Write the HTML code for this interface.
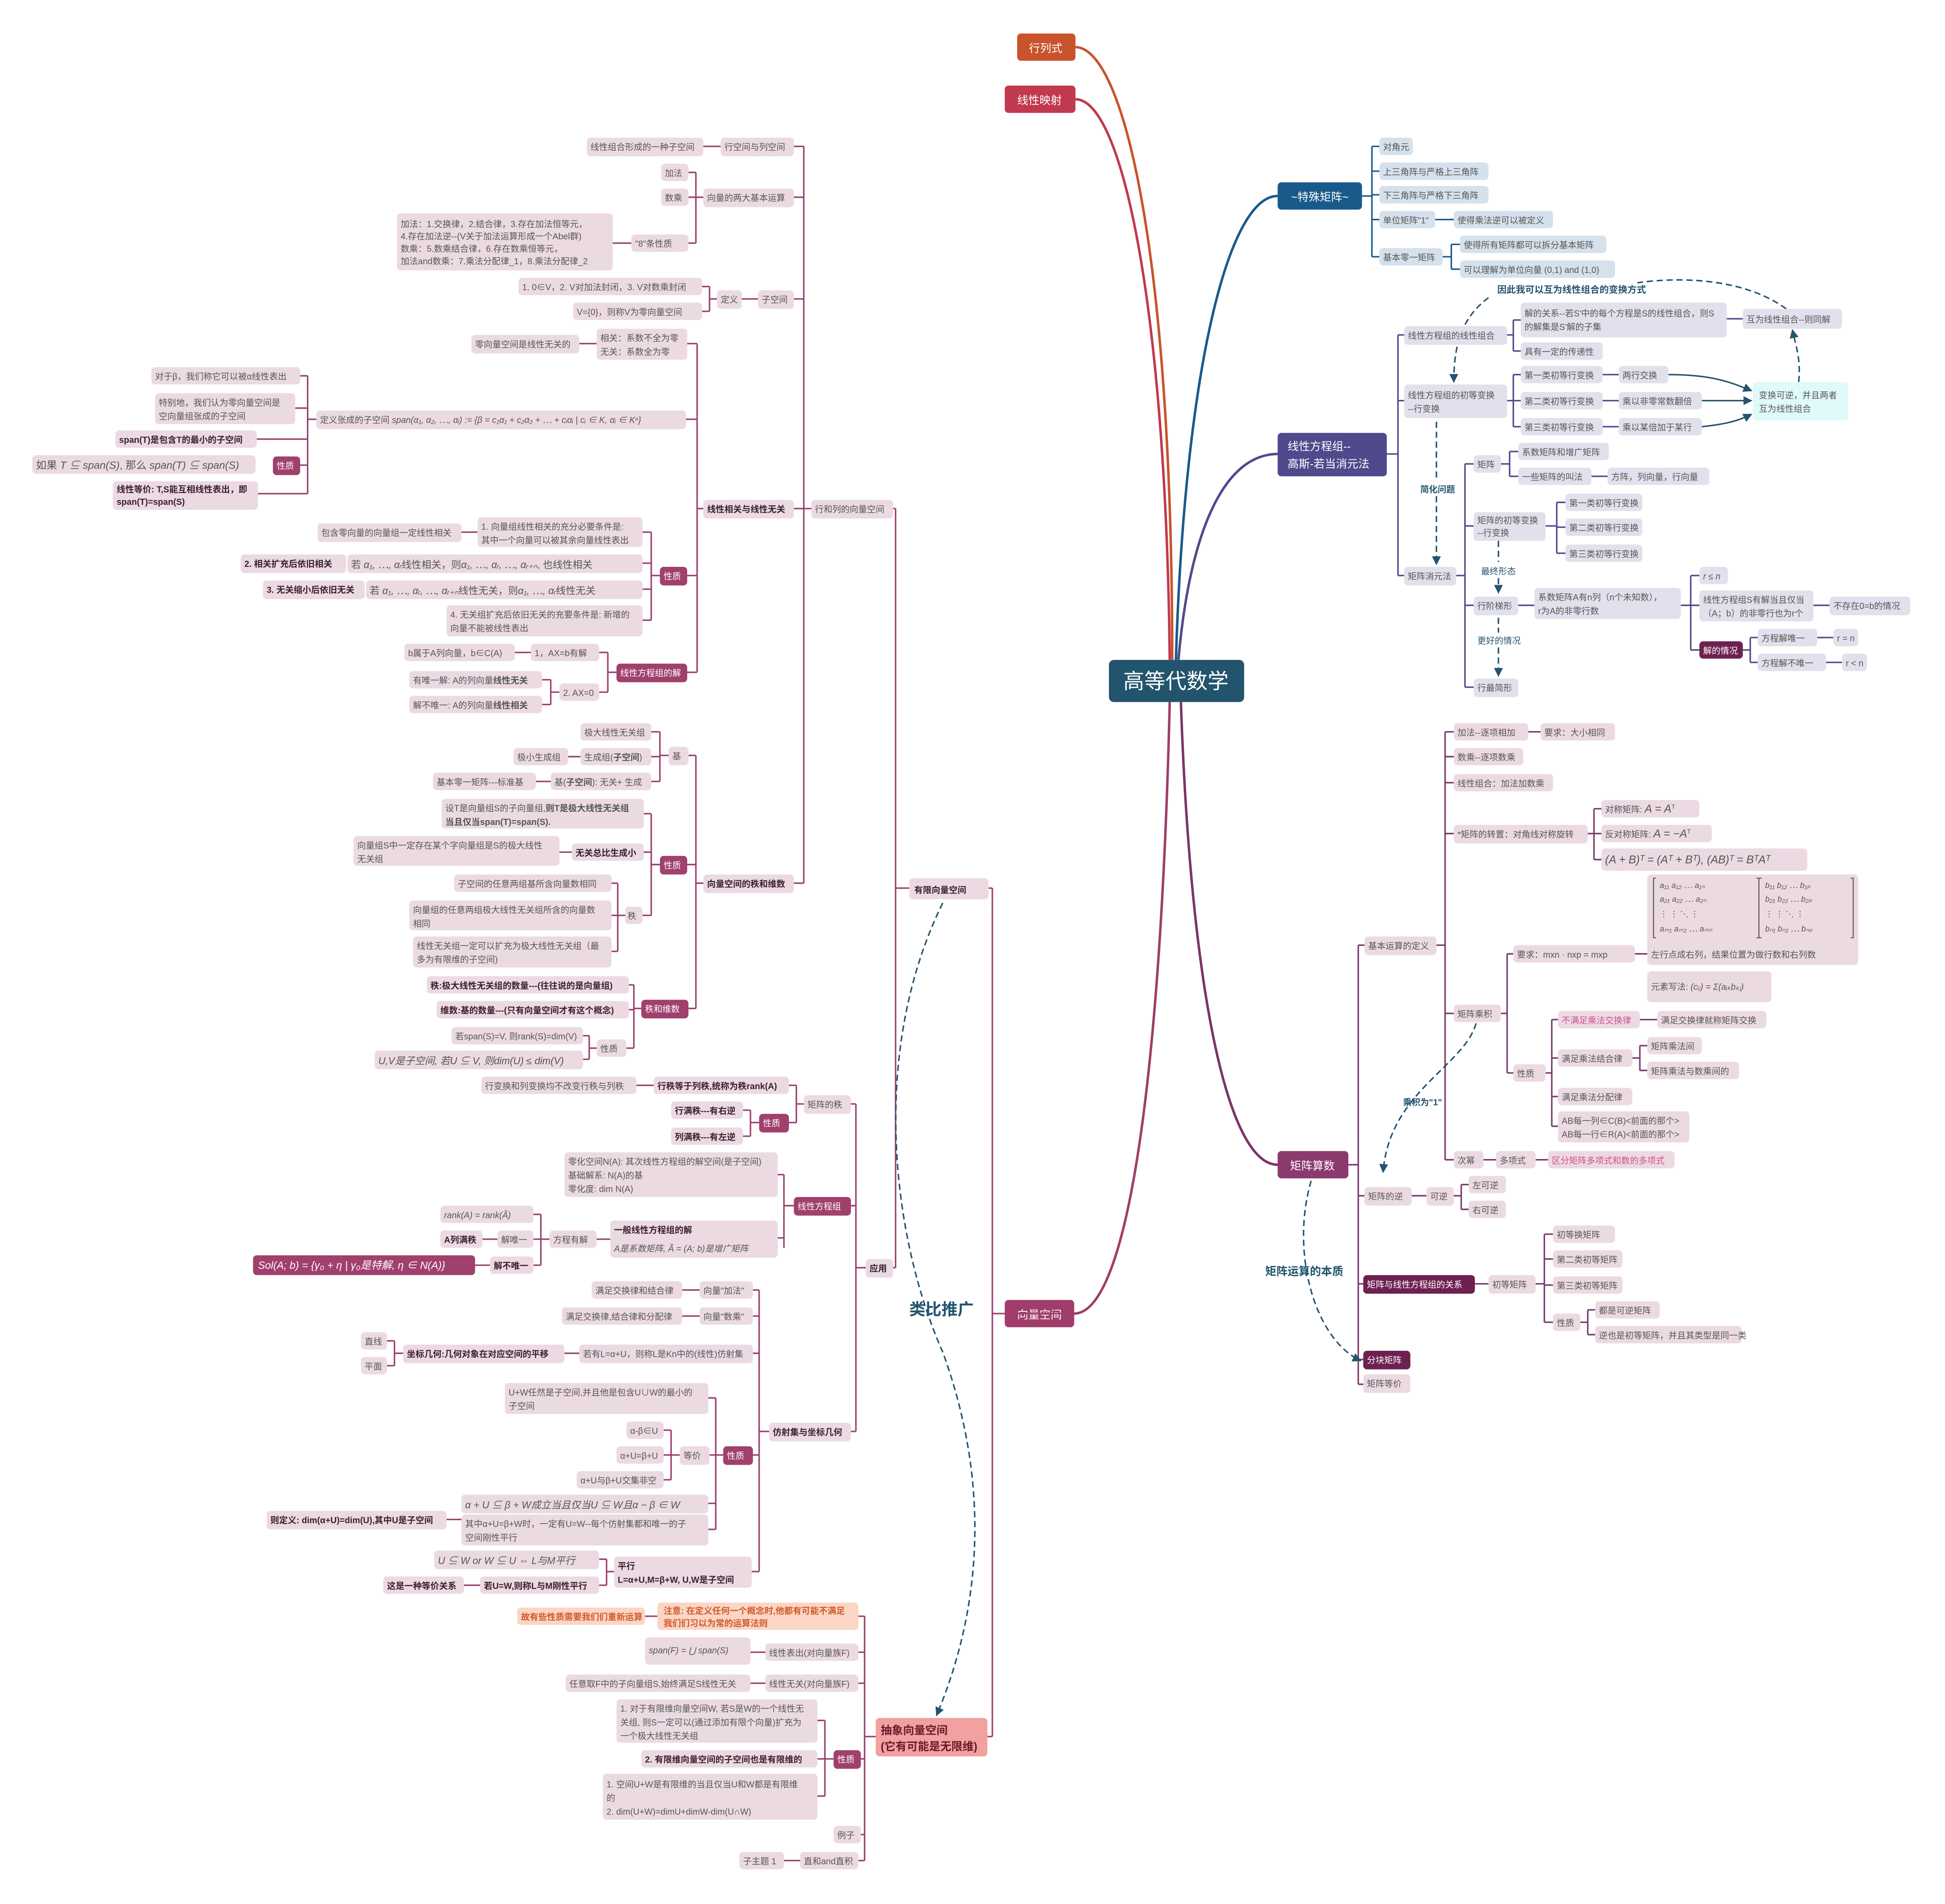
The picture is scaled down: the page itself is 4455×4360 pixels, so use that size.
<!DOCTYPE html>
<html><head><meta charset="utf-8">
<style>
html,body{margin:0;padding:0;background:#fff;}
svg{display:block;}
text{font-family:"Liberation Sans","Noto Sans CJK SC",sans-serif;font-size:7px;fill:#555;}
.p rect{fill:#ecdae3;}
.b rect{fill:#d5e1ec;}
.l rect{fill:#e1e0ec;}
.d rect{fill:#a0406c;}
.d text{fill:#fff;}
.dd rect{fill:#6d2150;}
.dd text{fill:#fff;}
.bo text{font-weight:bold;fill:#3a2030;}
.lp{fill:none;stroke:#9a4070;stroke-width:1.2;}
.lb{fill:none;stroke:#1a5a8a;stroke-width:1.2;}
.ll{fill:none;stroke:#4e4a8c;stroke-width:1.2;}
.lm{fill:none;stroke:#7a3a6e;stroke-width:1.2;}
.dash{fill:none;stroke:#23546e;stroke-width:1.2;stroke-dasharray:5 3;}
</style></head><body>
<svg width="4455" height="4360" viewBox="0 0 1568 1535" preserveAspectRatio="none" xmlns="http://www.w3.org/2000/svg">
<defs><marker id="ar" viewBox="0 0 10 10" refX="9" refY="5" markerWidth="6" markerHeight="6" orient="auto"><path d="M0,0L10,5L0,10z" fill="#23546e"/></marker></defs>
<rect width="1568" height="1535" fill="#fff"/>

<!-- root curves -->
<path d="M945,532 C945,200 905,38 867,38" fill="none" stroke="#c9532a" stroke-width="2"/>
<path d="M943,532 C940,250 905,80 867,80" fill="none" stroke="#c0394e" stroke-width="2"/>
<path d="M948,532 C955,300 990,158 1030,158" fill="none" stroke="#1a5a8a" stroke-width="2"/>
<path d="M950,532 C960,420 990,366 1030,366" fill="none" stroke="#4e4a8c" stroke-width="2"/>
<path d="M952,566 C960,800 990,939 1030,939" fill="none" stroke="#7a3468" stroke-width="2"/>
<path d="M943,566 C935,900 905,1059 866,1059" fill="none" stroke="#a03d6a" stroke-width="2"/>

<!-- main nodes -->
<rect x="894" y="532" width="109" height="34" rx="4" fill="#23546e"/>
<text x="948" y="555" text-anchor="middle" style="font-size:17px;fill:#fff">高等代数学</text>
<rect x="820" y="27" width="47" height="22" rx="3" fill="#c9532a"/><text x="843" y="42" text-anchor="middle" style="font-size:9px;fill:#fff">行列式</text>
<rect x="810" y="69" width="57" height="22" rx="3" fill="#c0394e"/><text x="838" y="84" text-anchor="middle" style="font-size:9px;fill:#fff">线性映射</text>
<rect x="1030" y="147" width="68" height="22" rx="3" fill="#1a5a8a"/><text x="1064" y="162" text-anchor="middle" style="font-size:9px;fill:#fff">~特殊矩阵~</text>
<rect x="1030" y="349" width="88" height="35" rx="3" fill="#4e4a8c"/><text x="1038" y="363" style="font-size:9px;fill:#fff">线性方程组--</text><text x="1038" y="377" style="font-size:9px;fill:#fff">高斯-若当消元法</text>
<rect x="1030" y="928" width="57" height="22" rx="3" fill="#8b3a6e"/><text x="1058" y="943" text-anchor="middle" style="font-size:9px;fill:#fff">矩阵算数</text>
<rect x="810" y="1048" width="56" height="22" rx="3" fill="#a03d6a"/><text x="838" y="1063" text-anchor="middle" style="font-size:9px;fill:#fff">向量空间</text>

<!-- ===== 特殊矩阵 ===== -->
<path class="lb" d="M1098,158 H1106 M1106,118 V207 M1106,118 H1112 M1106,138 H1112 M1106,157 H1112 M1106,177 H1112 M1106,207 H1112 M1157,177 H1172 M1163,207 H1170 M1170,197 V217 M1170,197 H1177 M1170,217 H1177"/>
<g class="b">
<rect x="1112" y="111" width="27" height="14" rx="3"/><text x="1115" y="121">对角元</text>
<rect x="1112" y="131" width="88" height="14" rx="3"/><text x="1115" y="141">上三角阵与严格上三角阵</text>
<rect x="1112" y="150" width="88" height="14" rx="3"/><text x="1115" y="160">下三角阵与严格下三角阵</text>
<rect x="1112" y="170" width="45" height="14" rx="3"/><text x="1115" y="180">单位矩阵"1"</text>
<rect x="1172" y="170" width="80" height="14" rx="3"/><text x="1175" y="180">使得乘法逆可以被定义</text>
<rect x="1112" y="200" width="51" height="14" rx="3"/><text x="1115" y="210">基本零一矩阵</text>
<rect x="1177" y="190" width="118" height="14" rx="3"/><text x="1180" y="200">使得所有矩阵都可以拆分基本矩阵</text>
<rect x="1177" y="210" width="125" height="14" rx="3"/><text x="1180" y="220">可以理解为单位向量 (0,1) and (1,0)</text>
</g>

<!-- ===== 线性方程组 ===== -->
<path class="ll" d="M1118,366 H1127 M1127,270 V464 M1127,270 H1132 M1127,323 H1132 M1127,464 H1132
M1215,270 H1220 M1220,258 V283 M1220,258 H1226 M1220,283 H1226 M1392,257 H1405
M1215,323 H1220 M1220,302 V344 M1220,302 H1226 M1220,323 H1226 M1220,344 H1226
M1292,302 H1305 M1292,323 H1305 M1292,344 H1305
M1174,464 H1181 M1181,374 V554 M1181,374 H1188 M1181,424 H1188 M1181,488 H1188 M1181,554 H1188
M1210,374 H1217 M1217,364 V384 M1217,364 H1224 M1217,384 H1224 M1283,384 H1296
M1246,424 H1255 M1255,405 V446 M1255,405 H1262 M1255,425 H1262 M1255,446 H1262
M1224,488 H1237 M1355,488 H1363 M1363,464 V524 M1363,464 H1370 M1363,488 H1370 M1363,524 H1370 M1462,488 H1475
M1405,524 H1411 M1411,514 V534 M1411,514 H1417 M1411,534 H1417 M1465,514 H1478 M1472,534 H1485"/>
<path d="M1345,302 C1380,302 1395,308 1412,315" fill="none" stroke="#23546e" stroke-width="1.2" marker-end="url(#ar)"/>
<path d="M1372,323 C1390,323 1400,323 1412,323" fill="none" stroke="#23546e" stroke-width="1.2" marker-end="url(#ar)"/>
<path d="M1372,344 C1390,342 1400,340 1412,334" fill="none" stroke="#23546e" stroke-width="1.2" marker-end="url(#ar)"/>
<path class="dash" d="M1450,308 C1452,290 1448,280 1445,266" marker-end="url(#ar)"/>
<path class="dash" d="M1440,249 C1400,220 1340,225 1320,228"/>
<path class="dash" d="M1200,240 C1180,255 1172,275 1172,308" marker-end="url(#ar)"/>
<path class="dash" d="M1158,340 V385 M1158,400 V455" marker-end="url(#ar)"/>
<path class="dash" d="M1208,436 V453 M1208,466 V478" marker-end="url(#ar)"/>
<path class="dash" d="M1208,498 V510 M1208,522 V545" marker-end="url(#ar)"/>
<text x="1207" y="236" style="font-weight:bold;fill:#23546e;font-size:7.5px">因此我可以互为线性组合的变换方式</text>
<text x="1145" y="397" style="font-weight:bold;fill:#23546e">简化问题</text>
<text x="1194" y="463" style="fill:#23546e">最终形态</text>
<text x="1191" y="519" style="fill:#23546e">更好的情况</text>
<g class="l">
<rect x="1132" y="263" width="83" height="15" rx="3"/><text x="1135" y="273">线性方程组的线性组合</text>
<rect x="1226" y="244" width="166" height="28" rx="3"/><text x="1229" y="255">解的关系--若S'中的每个方程是S的线性组合，则S</text><text x="1229" y="266">的解集是S'解的子集</text>
<rect x="1405" y="249" width="80" height="16" rx="3"/><text x="1408" y="260">互为线性组合--则同解</text>
<rect x="1226" y="276" width="66" height="14" rx="3"/><text x="1229" y="286">具有一定的传递性</text>
<rect x="1132" y="310" width="83" height="27" rx="3"/><text x="1135" y="321">线性方程组的初等变换</text><text x="1135" y="332">--行变换</text>
<rect x="1226" y="295" width="66" height="14" rx="3"/><text x="1229" y="305">第一类初等行变换</text>
<rect x="1226" y="316" width="66" height="14" rx="3"/><text x="1229" y="326">第二类初等行变换</text>
<rect x="1226" y="337" width="66" height="14" rx="3"/><text x="1229" y="347">第三类初等行变换</text>
<rect x="1305" y="295" width="40" height="14" rx="3"/><text x="1308" y="305">两行交换</text>
<rect x="1305" y="316" width="67" height="14" rx="3"/><text x="1308" y="326">乘以非零常数翻倍</text>
<rect x="1305" y="337" width="67" height="14" rx="3"/><text x="1308" y="347">乘以某倍加于某行</text>
<rect x="1188" y="367" width="22" height="14" rx="3"/><text x="1191" y="377">矩阵</text>
<rect x="1224" y="357" width="73" height="14" rx="3"/><text x="1227" y="367">系数矩阵和增广矩阵</text>
<rect x="1224" y="377" width="59" height="14" rx="3"/><text x="1227" y="387">一些矩阵的叫法</text>
<rect x="1296" y="377" width="82" height="14" rx="3"/><text x="1299" y="387">方阵，列向量，行向量</text>
<rect x="1188" y="413" width="58" height="23" rx="3"/><text x="1191" y="422">矩阵的初等变换</text><text x="1191" y="432">--行变换</text>
<rect x="1262" y="398" width="62" height="14" rx="3"/><text x="1265" y="408">第一类初等行变换</text>
<rect x="1262" y="418" width="62" height="14" rx="3"/><text x="1265" y="428">第二类初等行变换</text>
<rect x="1262" y="439" width="62" height="14" rx="3"/><text x="1265" y="449">第三类初等行变换</text>
<rect x="1132" y="457" width="42" height="15" rx="3"/><text x="1135" y="467">矩阵消元法</text>
<rect x="1188" y="481" width="36" height="15" rx="3"/><text x="1191" y="491">行阶梯形</text>
<rect x="1237" y="474" width="118" height="25" rx="3"/><text x="1240" y="484">系数矩阵A有n列（n个未知数），</text><text x="1240" y="495">r为A的非零行数</text>
<rect x="1370" y="457" width="23" height="14" rx="3"/><text x="1373" y="467" style="font-style:italic">r ≤ n</text>
<rect x="1370" y="476" width="92" height="25" rx="3"/><text x="1373" y="486">线性方程组S有解当且仅当</text><text x="1373" y="497">（A；b）的非零行也为r个</text>
<rect x="1475" y="481" width="65" height="15" rx="3"/><text x="1478" y="491">不存在0=b的情况</text>
<rect x="1417" y="507" width="48" height="14" rx="3"/><text x="1420" y="517">方程解唯一</text>
<rect x="1478" y="507" width="20" height="14" rx="3"/><text x="1481" y="517">r = n</text>
<rect x="1417" y="527" width="55" height="14" rx="3"/><text x="1420" y="537">方程解不唯一</text>
<rect x="1485" y="527" width="20" height="14" rx="3"/><text x="1488" y="537">r &lt; n</text>
<rect x="1188" y="547" width="36" height="15" rx="3"/><text x="1191" y="557">行最简形</text>
</g>
<rect x="1413" y="308" width="77" height="31" rx="3" fill="#e0fafa"/><text x="1418" y="321">变换可逆，并且两者</text><text x="1418" y="332">互为线性组合</text>
<g class="dd"><rect x="1370" y="517" width="35" height="14" rx="3"/><text x="1373" y="527">解的情况</text></g>

<!-- ===== 矩阵算数 ===== -->
<path class="lm" d="M1087,939 H1095 M1095,762 V1116 M1095,762 H1100 M1095,964 H1100 M1095,1035 H1099 M1095,1096 H1099 M1095,1116 H1099
M1158,762 H1165 M1165,590 V935 M1165,590 H1172 M1165,610 H1172 M1165,631 H1172 M1165,672 H1172 M1165,817 H1172 M1165,935 H1172
M1232,590 H1242 M1280,672 H1285 M1285,652 V693 M1285,652 H1291 M1285,672 H1291 M1285,693 H1291
M1210,817 H1215 M1215,769 V865 M1215,769 H1220 M1215,865 H1220 M1318,769 H1328
M1246,865 H1251 M1251,822 V908 M1251,822 H1256 M1251,853 H1256 M1251,884 H1256 M1251,908 H1256
M1322,822 H1336 M1316,853 H1322 M1322,843 V863 M1322,843 H1328 M1322,863 H1328
M1196,935 H1206 M1238,935 H1248 M1138,964 H1150 M1172,964 H1178 M1178,955 V975 M1178,955 H1184 M1178,975 H1184
M1189,1035 H1200 M1238,1035 H1245 M1245,995 V1066 M1245,995 H1252 M1245,1015 H1252 M1245,1036 H1252 M1245,1066 H1252
M1274,1066 H1280 M1280,1056 V1076 M1280,1056 H1286 M1280,1076 H1286"/>
<path class="dash" d="M1190,825 C1180,860 1120,880 1115,945" marker-end="url(#ar)"/>
<path class="dash" d="M1057,952 C1040,1010 1060,1080 1097,1097" marker-end="url(#ar)"/>
<text x="1131" y="891" style="font-weight:bold;fill:#23546e">乘积为"1"</text>
<text x="1020" y="1028" style="font-weight:bold;fill:#23546e;font-size:9px">矩阵运算的本质</text>
<g class="p">
<rect x="1100" y="755" width="58" height="15" rx="3"/><text x="1103" y="765">基本运算的定义</text>
<rect x="1172" y="583" width="60" height="14" rx="3"/><text x="1175" y="593">加法--逐项相加</text>
<rect x="1242" y="583" width="60" height="14" rx="3"/><text x="1245" y="593">要求：大小相同</text>
<rect x="1172" y="603" width="56" height="14" rx="3"/><text x="1175" y="613">数乘--逐项数乘</text>
<rect x="1172" y="624" width="80" height="14" rx="3"/><text x="1175" y="634">线性组合：加法加数乘</text>
<rect x="1172" y="665" width="108" height="15" rx="3"/><text x="1175" y="675">*矩阵的转置：对角线对称旋转</text>
<rect x="1291" y="645" width="79" height="14" rx="3"/><text x="1294" y="655">对称矩阵:  <tspan style="font-style:italic;font-size:9px">A = A</tspan><tspan dy="-3" style="font-size:5px">T</tspan></text>
<rect x="1291" y="665" width="89" height="14" rx="3"/><text x="1294" y="675">反对称矩阵:  <tspan style="font-style:italic;font-size:9px">A = −A</tspan><tspan dy="-3" style="font-size:5px">T</tspan></text>
<rect x="1291" y="684" width="166" height="18" rx="3"/><text x="1294" y="696" style="font-style:italic;font-size:9px">(A + B)ᵀ = (Aᵀ + Bᵀ), (AB)ᵀ = BᵀAᵀ</text>
<rect x="1172" y="810" width="38" height="14" rx="3"/><text x="1175" y="820">矩阵乘积</text>
<rect x="1220" y="762" width="98" height="14" rx="3"/><text x="1223" y="772">要求：mxn · nxp = mxp</text>
<rect x="1328" y="705" width="170" height="73" rx="3"/>
<text x="1338" y="716" style="font-size:6.5px;font-style:italic">a₁₁  a₁₂  ⋯  a₁ₙ</text><text x="1338" y="727" style="font-size:6.5px;font-style:italic">a₂₁  a₂₂  ⋯  a₂ₙ</text><text x="1338" y="739" style="font-size:6.5px">⋮     ⋮    ⋱   ⋮</text><text x="1338" y="751" style="font-size:6.5px;font-style:italic">aₘ₁  aₘ₂  ⋯  aₘₙ</text>
<text x="1423" y="716" style="font-size:6.5px;font-style:italic">b₁₁  b₁₂  ⋯  b₁ₚ</text><text x="1423" y="727" style="font-size:6.5px;font-style:italic">b₂₁  b₂₂  ⋯  b₂ₚ</text><text x="1423" y="739" style="font-size:6.5px">⋮     ⋮    ⋱   ⋮</text><text x="1423" y="751" style="font-size:6.5px;font-style:italic">bₙ₁  bₙ₂  ⋯  bₙₚ</text>
<path d="M1335,708 h-2 v48 h2 M1416,708 h2 v48 h-2 M1420,708 h-2 v48 h2 M1492,708 h2 v48 h-2" stroke="#555" fill="none" stroke-width="0.8"/>
<text x="1331" y="772">左行点成右列，结果位置为做行数和右列数</text>
<rect x="1328" y="783" width="100" height="25" rx="3"/><text x="1331" y="798">元素写法:  <tspan style="font-style:italic">(cᵢⱼ) = Σ(aᵢₖbₖⱼ)</tspan></text>
<rect x="1220" y="858" width="26" height="14" rx="3"/><text x="1223" y="868">性质</text>
<rect x="1256" y="815" width="66" height="14" rx="3"/><text x="1259" y="825" style="fill:#d0508a">不满足乘法交换律</text>
<rect x="1336" y="815" width="88" height="14" rx="3"/><text x="1339" y="825">满足交换律就称矩阵交换</text>
<rect x="1256" y="846" width="60" height="14" rx="3"/><text x="1259" y="856">满足乘法结合律</text>
<rect x="1328" y="836" width="44" height="14" rx="3"/><text x="1331" y="846">矩阵乘法间</text>
<rect x="1328" y="856" width="74" height="14" rx="3"/><text x="1331" y="866">矩阵乘法与数乘间的</text>
<rect x="1256" y="877" width="60" height="14" rx="3"/><text x="1259" y="887">满足乘法分配律</text>
<rect x="1256" y="896" width="106" height="25" rx="3"/><text x="1259" y="906">AB每一列∈C(B)&lt;前面的那个&gt;</text><text x="1259" y="917">AB每一行∈R(A)&lt;前面的那个&gt;</text>
<rect x="1172" y="928" width="24" height="14" rx="3"/><text x="1175" y="938">次幂</text>
<rect x="1206" y="928" width="32" height="14" rx="3"/><text x="1209" y="938">多项式</text>
<rect x="1248" y="928" width="102" height="14" rx="3"/><text x="1251" y="938" style="fill:#d0508a">区分矩阵多项式和数的多项式</text>
<rect x="1100" y="957" width="38" height="15" rx="3"/><text x="1103" y="967">矩阵的逆</text>
<rect x="1150" y="957" width="22" height="15" rx="3"/><text x="1153" y="967">可逆</text>
<rect x="1184" y="948" width="30" height="14" rx="3"/><text x="1187" y="958">左可逆</text>
<rect x="1184" y="968" width="30" height="14" rx="3"/><text x="1187" y="978">右可逆</text>
<rect x="1200" y="1028" width="38" height="15" rx="3"/><text x="1203" y="1038">初等矩阵</text>
<rect x="1252" y="988" width="50" height="14" rx="3"/><text x="1255" y="998">初等换矩阵</text>
<rect x="1252" y="1008" width="56" height="14" rx="3"/><text x="1255" y="1018">第二类初等矩阵</text>
<rect x="1252" y="1029" width="56" height="14" rx="3"/><text x="1255" y="1039">第三类初等矩阵</text>
<rect x="1252" y="1059" width="22" height="14" rx="3"/><text x="1255" y="1069">性质</text>
<rect x="1286" y="1049" width="52" height="14" rx="3"/><text x="1289" y="1059">都是可逆矩阵</text>
<rect x="1286" y="1069" width="118" height="14" rx="3"/><text x="1289" y="1079">逆也是初等矩阵，并且其类型是同一类</text>
<rect x="1099" y="1108" width="38" height="15" rx="3"/><text x="1102" y="1118">矩阵等价</text>
</g>
<g class="dd">
<rect x="1099" y="1028" width="90" height="15" rx="3"/><text x="1102" y="1038">矩阵与线性方程组的关系</text>
<rect x="1099" y="1089" width="38" height="15" rx="3"/><text x="1102" y="1099">分块矩阵</text>
</g>

<!-- ===== 向量空间 (left) ===== -->
<path class="lp" d="M866,1059 H800 M800,716 V1400 M800,716 H797 M800,1400 H796
M733,716 H722 M722,410 V1022 M722,410 H720 M722,1022 H720
M654,410 H648 M648,118 V712 M648,118 H640 M648,159 H640 M648,241 H640 M648,410 H640 M648,712 H640
M581,118 H567 M567,159 H561 M561,139 V196 M561,139 H555 M561,159 H555 M561,196 H555 M509,196 H494
M611,241 H598 M578,241 H572 M572,231 V251 M572,231 H566 M572,251 H566
M567,410 H562 M562,277 V542 M562,277 H554 M562,338 H553 M562,464 H554 M562,542 H554
M481,277 H467 M255,338 H248 M248,303 V398 M248,303 H242 M248,329 H238 M248,354 H207 M248,375 H242 M248,398 H208 M242,375 H242
M532,464 H525 M525,429 V500 M525,429 H518 M525,454 H518 M525,475 H518 M525,500 H518 M385,429 H372
M497,542 H490 M490,526 V558 M490,526 H483 M490,558 H483 M428,526 H415 M451,558 H444 M444,548 V568 M444,548 H437 M444,568 H437
M567,712 H561 M561,609 V813 M561,609 H555 M561,697 H554 M561,813 H555
M539,609 H532 M532,590 V630 M532,590 H525 M532,610 H525 M532,630 H525 M468,610 H458 M444,630 H432
M532,697 H525 M525,656 V738 M525,656 H519 M525,687 H519 M525,738 H518 M461,687 H451 M504,738 H498 M498,712 V767 M498,712 H493 M498,738 H493 M498,767 H493
M517,813 H511 M511,794 V845 M511,794 H507 M511,814 H507 M511,845 H505 M481,845 H475 M475,835 V854 M475,835 H470 M475,854 H470
M698,1022 H690 M690,890 V1154 M690,890 H686 M690,972 H686 M690,1154 H686
M648,890 H642 M642,875 V905 M642,875 H636 M642,905 H636 M527,875 H513 M612,905 H605 M605,895 V916 M605,895 H599 M605,916 H599
M640,972 H632 M632,947 V1006 M632,947 H627 M632,998 H627 M492,999 H481 M443,999 H436 M436,979 V1020 M436,979 H430 M436,999 H430 M436,1020 H430 M395,1020 H383 M355,999 H389 M401,999 H389
M620,1154 H612 M612,1040 V1267 M612,1040 H607 M612,1061 H607 M612,1091 H607 M612,1173 H607 M612,1267 H606
M564,1040 H550 M564,1061 H550 M467,1091 H455 M325,1091 H318 M318,1081 V1101 M318,1081 H312 M318,1101 H312
M583,1173 H577 M577,1127 V1233 M577,1127 H571 M577,1173 H572 M577,1212 H571 M577,1233 H571 M548,1173 H541 M541,1153 V1193 M541,1153 H535 M541,1173 H535 M541,1193 H535 M372,1225 H360
M495,1267 H489 M489,1257 V1278 M489,1257 H483 M489,1278 H483 M387,1278 H374
M706,1400 H697 M697,1303 V1500 M697,1303 H692 M697,1332 H692 M697,1357 H692 M697,1418 H694 M697,1479 H694 M697,1500 H692
M530,1303 H520 M617,1332 H605 M617,1357 H605 M645,1500 H632
M672,1418 H665 M665,1387 V1448 M665,1387 H659 M665,1418 H659 M665,1448 H659"/>
<path class="dash" d="M760,728 C700,850 720,1000 760,1090 C800,1200 790,1300 755,1383" marker-end="url(#ar)" style="stroke:#23546e"/>
<text x="733" y="1060" style="font-weight:bold;fill:#23546e;font-size:13px">类比推广</text>

<g class="p bo">
<rect x="733" y="708" width="64" height="17" rx="3"/><text x="737" y="720">有限向量空间</text>
<rect x="567" y="403" width="73" height="15" rx="3"/><text x="570" y="413">线性相关与线性无关</text>
<rect x="567" y="705" width="73" height="15" rx="3"/><text x="570" y="715">向量空间的秩和维数</text>
<rect x="698" y="1015" width="22" height="15" rx="3"/><text x="701" y="1025">应用</text>
<rect x="93" y="347" width="114" height="14" rx="3"/><text x="96" y="357">span(T)是包含T的最小的子空间</text>
<rect x="91" y="388" width="117" height="23" rx="3"/><text x="94" y="397">线性等价: T,S能互相线性表出，即</text><text x="94" y="407">span(T)=span(S)</text>
<rect x="194" y="447" width="85" height="15" rx="3"/><text x="197" y="457">2. 相关扩充后依旧相关</text>
<rect x="212" y="468" width="82" height="15" rx="3"/><text x="215" y="478">3. 无关缩小后依旧无关</text>
<rect x="461" y="680" width="58" height="14" rx="3"/><text x="464" y="690">无关总比生成小</text>
<rect x="344" y="787" width="163" height="14" rx="3"/><text x="347" y="797">秩:极大线性无关组的数量---(往往说的是向量组)</text>
<rect x="352" y="807" width="155" height="14" rx="3"/><text x="355" y="817">维数:基的数量---(只有向量空间才有这个概念)</text>
<rect x="527" y="868" width="109" height="14" rx="3"/><text x="530" y="878">行秩等于列秩,统称为秩rank(A)</text>
<rect x="541" y="888" width="58" height="14" rx="3"/><text x="544" y="898">行满秩---有右逆</text>
<rect x="541" y="909" width="58" height="14" rx="3"/><text x="544" y="919">列满秩---有左逆</text>
<rect x="355" y="992" width="34" height="14" rx="3"/><text x="358" y="1002">A列满秩</text>
<rect x="395" y="1013" width="35" height="14" rx="3"/><text x="398" y="1023">解不唯一</text>
<rect x="620" y="1147" width="66" height="15" rx="3"/><text x="623" y="1157">仿射集与坐标几何</text>
<rect x="325" y="1084" width="130" height="15" rx="3"/><text x="328" y="1094">坐标几何:几何对象在对应空间的平移</text>
<rect x="215" y="1218" width="145" height="15" rx="3"/><text x="218" y="1228">则定义: dim(α+U)=dim(U),其中U是子空间</text>
<rect x="495" y="1255" width="111" height="25" rx="3"/><text x="498" y="1265">平行</text><text x="498" y="1276">L=α+U,M=β+W,  U,W是子空间</text>
<rect x="387" y="1271" width="96" height="14" rx="3"/><text x="390" y="1281">若U=W,则称L与M刚性平行</text>
<rect x="309" y="1271" width="65" height="14" rx="3"/><text x="312" y="1281">这是一种等价关系</text>
<rect x="517" y="1411" width="142" height="14" rx="3"/><text x="520" y="1421">2. 有限维向量空间的子空间也是有限维的</text>
<rect x="492" y="984" width="135" height="30" rx="3"/><text x="495" y="994">一般线性方程组的解</text>
</g>
<text x="495" y="1009" style="font-style:italic">A是系数矩阵, Ã = (A; b)是增广矩阵</text>

<g class="p">
<rect x="654" y="403" width="66" height="15" rx="3"/><text x="657" y="413">行和列的向量空间</text>
<rect x="581" y="111" width="59" height="15" rx="3"/><text x="584" y="121">行空间与列空间</text>
<rect x="473" y="111" width="94" height="15" rx="3"/><text x="476" y="121">线性组合形成的一种子空间</text>
<rect x="567" y="152" width="73" height="15" rx="3"/><text x="570" y="162">向量的两大基本运算</text>
<rect x="533" y="132" width="22" height="14" rx="3"/><text x="536" y="142">加法</text>
<rect x="533" y="152" width="22" height="14" rx="3"/><text x="536" y="162">数乘</text>
<rect x="509" y="189" width="46" height="14" rx="3"/><text x="512" y="199">"8"条性质</text>
<rect x="320" y="172" width="174" height="46" rx="3"/>
<text x="323" y="183">加法：1.交换律，2.结合律，3.存在加法恒等元，</text><text x="323" y="193">4.存在加法逆--(V关于加法运算形成一个Abel群)</text><text x="323" y="203">数乘：5.数乘结合律，6.存在数乘恒等元，</text><text x="323" y="213">加法and数乘：7.乘法分配律_1，8.乘法分配律_2</text>
<rect x="611" y="234" width="29" height="15" rx="3"/><text x="614" y="244">子空间</text>
<rect x="578" y="234" width="20" height="15" rx="3"/><text x="581" y="244">定义</text>
<rect x="418" y="224" width="148" height="14" rx="3"/><text x="421" y="234">1. 0∈V，2. V对加法封闭，3. V对数乘封闭</text>
<rect x="462" y="244" width="104" height="14" rx="3"/><text x="465" y="254">V={0}，则称V为零向量空间</text>
<rect x="481" y="265" width="73" height="25" rx="3"/><text x="484" y="275">相关：系数不全为零</text><text x="484" y="286">无关：系数全为零</text>
<rect x="380" y="270" width="87" height="15" rx="3"/><text x="383" y="280">零向量空间是线性无关的</text>
<rect x="255" y="331" width="298" height="15" rx="3"/><text x="258" y="341">定义张成的子空间   <tspan style="font-style:italic">span(α₁, α₂, ⋯, αᵢ) := {β = c₁α₁ + c₂α₂ + ⋯ + cᵢαᵢ | cᵢ ∈ K, αᵢ ∈ Kⁿ}</tspan></text>
<rect x="122" y="296" width="120" height="14" rx="3"/><text x="125" y="306">对于β，我们称它可以被α线性表出</text>
<rect x="125" y="317" width="113" height="25" rx="3"/><text x="128" y="327">特别地，我们认为零向量空间是</text><text x="128" y="338">空向量组张成的子空间</text>
<rect x="26" y="367" width="180" height="15" rx="3"/><text x="29" y="378" style="font-size:8.5px">如果 <tspan style="font-style:italic">T ⊆ span(S)</tspan>, 那么 <tspan style="font-style:italic">span(T) ⊆ span(S)</tspan></text>
<rect x="385" y="417" width="133" height="24" rx="3"/><text x="388" y="427">1. 向量组线性相关的充分必要条件是:</text><text x="388" y="438">其中一个向量可以被其余向量线性表出</text>
<rect x="256" y="422" width="116" height="15" rx="3"/><text x="259" y="432">包含零向量的向量组一定线性相关</text>
<rect x="280" y="447" width="238" height="15" rx="3"/><text x="283" y="458" style="font-size:8px">若 <tspan style="font-style:italic">α₁, ⋯, αᵣ</tspan>线性相关，则<tspan style="font-style:italic">α₁, ⋯, αᵣ, ⋯, αᵣ₊ₙ</tspan>, 也线性相关</text>
<rect x="295" y="468" width="223" height="15" rx="3"/><text x="298" y="479" style="font-size:8px">若 <tspan style="font-style:italic">α₁, ⋯, αᵣ, ⋯, αᵣ₊ₙ</tspan>线性无关，则<tspan style="font-style:italic">α₁, ⋯, αᵣ</tspan>线性无关</text>
<rect x="360" y="488" width="158" height="25" rx="3"/><text x="363" y="498">4. 无关组扩充后依旧无关的充要条件是: 新增的</text><text x="363" y="509">向量不能被线性表出</text>
<rect x="428" y="519" width="55" height="14" rx="3"/><text x="431" y="529">1，AX=b有解</text>
<rect x="326" y="519" width="89" height="14" rx="3"/><text x="329" y="529">b属于A列向量，b∈C(A)</text>
<rect x="451" y="551" width="32" height="14" rx="3"/><text x="454" y="561">2. AX=0</text>
<rect x="330" y="541" width="107" height="14" rx="3"/><text x="333" y="551">有唯一解: A的列向量<tspan style="font-weight:bold">线性无关</tspan></text>
<rect x="330" y="561" width="107" height="14" rx="3"/><text x="333" y="571">解不唯一: A的列向量<tspan style="font-weight:bold">线性相关</tspan></text>
<rect x="539" y="602" width="16" height="15" rx="3"/><text x="542" y="612">基</text>
<rect x="468" y="583" width="57" height="14" rx="3"/><text x="471" y="593">极大线性无关组</text>
<rect x="468" y="603" width="57" height="14" rx="3"/><text x="471" y="613">生成组(<tspan style="font-weight:bold">子空间</tspan>)</text>
<rect x="414" y="603" width="44" height="14" rx="3"/><text x="417" y="613">极小生成组</text>
<rect x="444" y="623" width="81" height="14" rx="3"/><text x="447" y="633">基(<tspan style="font-weight:bold">子空间</tspan>): 无关+ 生成</text>
<rect x="349" y="623" width="83" height="14" rx="3"/><text x="352" y="633">基本零一矩阵---标准基</text>
<rect x="356" y="644" width="163" height="24" rx="3"/><text x="359" y="654">设T是向量组S的子向量组,<tspan style="font-weight:bold">则T是极大线性无关组</tspan></text><text x="359" y="665" style="font-weight:bold">当且仅当span(T)=span(S).</text>
<rect x="285" y="674" width="166" height="24" rx="3"/><text x="288" y="684">向量组S中一定存在某个字向量组是S的极大线性</text><text x="288" y="695">无关组</text>
<rect x="504" y="731" width="14" height="14" rx="3"/><text x="506" y="741">秩</text>
<rect x="366" y="705" width="127" height="14" rx="3"/><text x="369" y="715">子空间的任意两组基所含向量数相同</text>
<rect x="330" y="726" width="163" height="24" rx="3"/><text x="333" y="736">向量组的任意两组极大线性无关组所含的向量数</text><text x="333" y="747">相同</text>
<rect x="333" y="755" width="160" height="25" rx="3"/><text x="336" y="765">线性无关组一定可以扩充为极大线性无关组（最</text><text x="336" y="776">多为有限维的子空间)</text>
<rect x="481" y="838" width="24" height="14" rx="3"/><text x="484" y="848">性质</text>
<rect x="364" y="828" width="106" height="14" rx="3"/><text x="367" y="838">若span(S)=V, 则rank(S)=dim(V)</text>
<rect x="302" y="847" width="168" height="15" rx="3"/><text x="305" y="858" style="font-style:italic;font-size:8px">U,V是子空间, 若U ⊆ V, 则dim(U) ≤ dim(V)</text>
<rect x="648" y="883" width="38" height="15" rx="3"/><text x="651" y="893">矩阵的秩</text>
<rect x="388" y="868" width="125" height="14" rx="3"/><text x="391" y="878">行变换和列变换均不改变行秩与列秩</text>
<rect x="455" y="929" width="172" height="36" rx="3"/><text x="458" y="939">零化空间N(A): 其次线性方程组的解空间(是子空间)</text><text x="458" y="950">基础解系: N(A)的基</text><text x="458" y="961">零化度: dim N(A)</text>
<rect x="443" y="992" width="38" height="14" rx="3"/><text x="446" y="1002">方程有解</text>
<rect x="355" y="972" width="75" height="14" rx="3"/><text x="358" y="982" style="font-style:italic">rank(A) = rank(Ã)</text>
<rect x="401" y="992" width="29" height="14" rx="3"/><text x="404" y="1002">解唯一</text>
<rect x="564" y="1033" width="43" height="14" rx="3"/><text x="567" y="1043">向量"加法"</text>
<rect x="477" y="1033" width="73" height="14" rx="3"/><text x="480" y="1043">满足交换律和结合律</text>
<rect x="564" y="1054" width="43" height="14" rx="3"/><text x="567" y="1064">向量"数乘"</text>
<rect x="453" y="1054" width="97" height="14" rx="3"/><text x="456" y="1064">满足交换律,结合律和分配律</text>
<rect x="467" y="1084" width="140" height="15" rx="3"/><text x="470" y="1094">若有L=α+U，则称L是Kn中的(线性)仿射集</text>
<rect x="291" y="1074" width="21" height="14" rx="3"/><text x="294" y="1084">直线</text>
<rect x="291" y="1094" width="21" height="14" rx="3"/><text x="294" y="1104">平面</text>
<rect x="407" y="1115" width="164" height="25" rx="3"/><text x="410" y="1125">U+W任然是子空间,并且他是包含U∪W的最小的</text><text x="410" y="1136">子空间</text>
<rect x="548" y="1166" width="24" height="15" rx="3"/><text x="551" y="1176">等价</text>
<rect x="505" y="1146" width="30" height="14" rx="3"/><text x="508" y="1156">α-β∈U</text>
<rect x="497" y="1166" width="38" height="14" rx="3"/><text x="500" y="1176">α+U=β+U</text>
<rect x="465" y="1186" width="70" height="14" rx="3"/><text x="468" y="1196">α+U与β+U交集非空</text>
<rect x="372" y="1205" width="199" height="15" rx="3"/><text x="375" y="1216" style="font-style:italic;font-size:8px">α + U ⊆ β + W成立当且仅当U ⊆ W且α − β ∈ W</text>
<rect x="372" y="1221" width="199" height="25" rx="3"/><text x="375" y="1231">其中α+U=β+W时，一定有U=W--每个仿射集都和唯一的子</text><text x="375" y="1242">空间刚性平行</text>
<rect x="350" y="1250" width="133" height="15" rx="3"/><text x="353" y="1261" style="font-style:italic;font-size:8px">U ⊆ W or W ⊆ U ⇔ L与M平行</text>
<rect x="617" y="1325" width="75" height="14" rx="3"/><text x="620" y="1335">线性表出(对向量族F)</text>
<rect x="520" y="1320" width="85" height="22" rx="3"/><text x="523" y="1333" style="font-style:italic">span(F) = ⋃ span(S)</text>
<rect x="617" y="1350" width="75" height="14" rx="3"/><text x="620" y="1360">线性无关(对向量族F)</text>
<rect x="456" y="1350" width="149" height="14" rx="3"/><text x="459" y="1360">任意取F中的子向量组S,始终满足S线性无关</text>
<rect x="497" y="1370" width="162" height="35" rx="3"/><text x="500" y="1380">1. 对于有限维向量空间W, 若S是W的一个线性无</text><text x="500" y="1391">关组, 则S一定可以(通过添加有限个向量)扩充为</text><text x="500" y="1402">一个极大线性无关组</text>
<rect x="486" y="1430" width="173" height="37" rx="3"/><text x="489" y="1441">1. 空间U+W是有限维的当且仅当U和W都是有限维</text><text x="489" y="1452">的</text><text x="489" y="1463">2. dim(U+W)=dimU+dimW-dim(U∩W)</text>
<rect x="672" y="1472" width="22" height="14" rx="3"/><text x="675" y="1482">例子</text>
<rect x="645" y="1493" width="47" height="14" rx="3"/><text x="648" y="1503">直和and直积</text>
<rect x="596" y="1493" width="36" height="14" rx="3"/><text x="599" y="1503">子主题 1</text>
</g>

<g class="d">
<rect x="220" y="368" width="22" height="15" rx="3"/><text x="223" y="378">性质</text>
<rect x="532" y="457" width="22" height="15" rx="3"/><text x="535" y="467">性质</text>
<rect x="497" y="535" width="57" height="15" rx="3"/><text x="500" y="545">线性方程组的解</text>
<rect x="532" y="690" width="22" height="15" rx="3"/><text x="535" y="700">性质</text>
<rect x="517" y="806" width="38" height="15" rx="3"/><text x="520" y="816">秩和维数</text>
<rect x="612" y="898" width="24" height="15" rx="3"/><text x="615" y="908">性质</text>
<rect x="640" y="965" width="46" height="15" rx="3"/><text x="643" y="975">线性方程组</text>
<rect x="204" y="1012" width="179" height="16" rx="3"/><text x="208" y="1023" style="font-style:italic;font-size:8.5px">Sol(A; b) = {γ₀ + η | γ₀是特解, η ∈ N(A)}</text>
<rect x="583" y="1166" width="24" height="15" rx="3"/><text x="586" y="1176">性质</text>
<rect x="672" y="1411" width="22" height="15" rx="3"/><text x="675" y="1421">性质</text>
</g>

<rect x="530" y="1292" width="162" height="22" rx="3" fill="#fbd5c5"/><text x="535" y="1301" style="font-weight:bold;fill:#d05a2a">注意: 在定义任何一个概念时,他都有可能不满足</text><text x="535" y="1311" style="font-weight:bold;fill:#d05a2a">我们们习以为常的运算法则</text>
<rect x="417" y="1296" width="103" height="14" rx="3" fill="#fbd5c5"/><text x="420" y="1306" style="font-weight:bold;fill:#d05a2a">故有些性质需要我们们重新运算</text>
<rect x="706" y="1385" width="90" height="31" rx="3" fill="#f2a0a0"/><text x="710" y="1398" style="font-size:9px;font-weight:bold;fill:#6a1a2a">抽象向量空间</text><text x="710" y="1411" style="font-size:9px;font-weight:bold;fill:#6a1a2a">(它有可能是无限维)</text>
</svg>
</body></html>
